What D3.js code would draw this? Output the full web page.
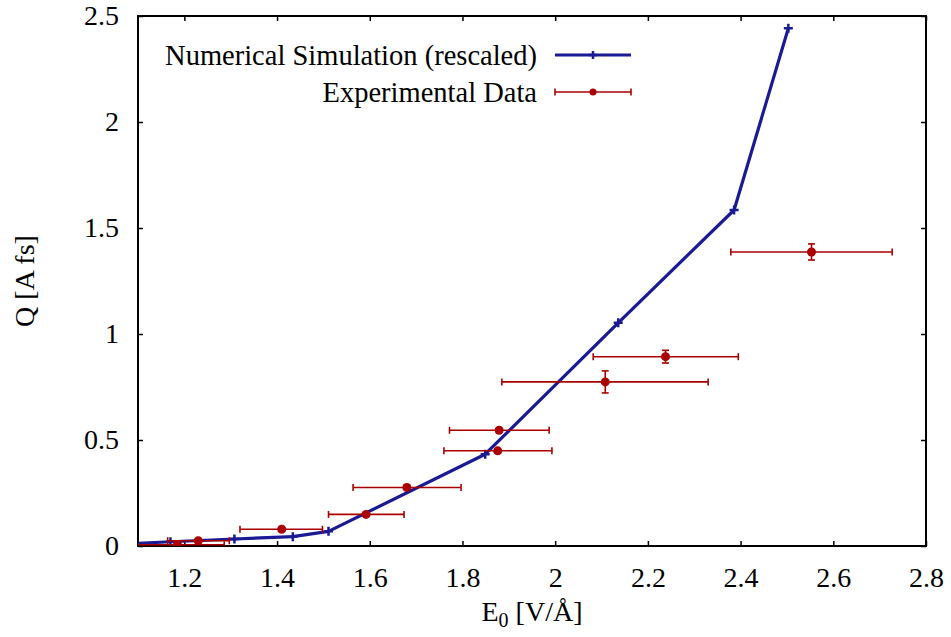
<!DOCTYPE html>
<html>
<head>
<meta charset="utf-8">
<script src="https://cdn.jsdelivr.net/npm/d3@7"></script>
<style>
  body { margin: 0; background: #fff; }
  svg text { font-family: "Liberation Serif", "DejaVu Serif", serif !important; fill: #000; }
</style>
</head>
<body>
<div id="chart"></div>
<script>
// simulation curve (rescaled)
const simE = [1.03, 1.17, 1.308, 1.434, 1.511, 1.849, 2.136, 2.386, 2.503];
const simQ = [0.005, 0.02, 0.033, 0.044, 0.069, 0.433, 1.053, 1.585, 2.442];

// experimental data with error bars
const expE = [1.185, 1.23, 1.41, 1.592, 1.68, 1.876, 1.879, 2.108, 2.238, 2.553];
const expQ = [0.006, 0.025, 0.079, 0.149, 0.276, 0.449, 0.546, 0.774, 0.893, 1.387];
const expELow = [1.084, 1.164, 1.32, 1.511, 1.564, 1.76, 1.772, 1.885, 2.082, 2.379];
const expEHigh = [1.286, 1.297, 1.498, 1.674, 1.797, 1.993, 1.987, 2.33, 2.395, 2.727];
const expQErr = [0.008, 0.008, 0.008, 0.008, 0.008, 0.008, 0.008, 0.052, 0.03, 0.038];

const xTicks = [1.2, 1.4, 1.6, 1.8, 2, 2.2, 2.4, 2.6, 2.8];
const yTicks = [0, 0.5, 1, 1.5, 2, 2.5];

const W = 951, H = 637;
const margin = { top: 16, right: 25, bottom: 91, left: 138 };
const innerW = W - margin.left - margin.right;
const innerH = H - margin.top - margin.bottom;

const blue = "#1a1a94";
const red = "#aa0000";
const fontSize = 28;
const serif = '"Liberation Serif", "DejaVu Serif", serif';

const svg = d3.select("#chart").append("svg")
  .attr("width", W).attr("height", H)
  .attr("font-family", serif);

const g = svg.append("g")
  .attr("transform", `translate(${margin.left},${margin.top})`);

const x = d3.scaleLinear().domain([1.1, 2.8]).range([0, innerW]);
const y = d3.scaleLinear().domain([0, 2.5]).range([innerH, 0]);

/* clip to the frame */
g.append("clipPath").attr("id", "plot-clip")
  .append("rect").attr("width", innerW).attr("height", innerH);

/* axes: ticks pointing in, mirrored */
const tickLen = 5;
g.append("g").attr("transform", `translate(0,${innerH})`)
  .call(d3.axisBottom(x).tickValues(xTicks).tickSizeInner(-tickLen).tickSizeOuter(0).tickPadding(21).tickFormat(d3.format("")))
  .call((a) => a.select(".domain").remove());
g.append("g")
  .call(d3.axisTop(x).tickValues(xTicks).tickSizeInner(-tickLen).tickSizeOuter(0).tickFormat(""))
  .call((a) => a.select(".domain").remove());
g.append("g")
  .call(d3.axisLeft(y).tickValues(yTicks).tickSizeInner(-tickLen).tickSizeOuter(0).tickPadding(19).tickFormat(d3.format("")))
  .call((a) => a.select(".domain").remove());
g.append("g").attr("transform", `translate(${innerW},0)`)
  .call(d3.axisRight(y).tickValues(yTicks).tickSizeInner(-tickLen).tickSizeOuter(0).tickFormat(""))
  .call((a) => a.select(".domain").remove());

g.selectAll("g").attr("font-family", serif);
g.selectAll(".tick line").attr("stroke", "#000").attr("stroke-width", 1.5);
g.selectAll(".tick text")
  .style("font-size", fontSize + "px")
  .attr("fill", "#000");

/* frame */
g.append("rect")
  .attr("width", innerW).attr("height", innerH)
  .attr("fill", "none").attr("stroke", "#000").attr("stroke-width", 2);

const data = g.append("g").attr("clip-path", "url(#plot-clip)");

/* simulation line */
const simPts = simE.map((e, i) => [e, simQ[i]]);
data.append("path")
  .datum(simPts)
  .attr("fill", "none")
  .attr("stroke", blue)
  .attr("stroke-width", 3.2)
  .attr("stroke-linejoin", "round")
  .attr("d", d3.line().x((d) => x(d[0])).y((d) => y(d[1])));

const plus = (sel, cx, cy, s) => {
  sel.append("path")
    .attr("d", `M${cx - s},${cy}H${cx + s}M${cx},${cy - s}V${cy + s}`)
    .attr("stroke", blue).attr("stroke-width", 2.5);
};
simPts.forEach((d) => plus(data, x(d[0]), y(d[1]), 4.5));

/* experimental points */
const capX = 3.5, capY = 3.5;
expE.forEach((e, i) => {
  const pg = data.append("g").attr("stroke", red).attr("stroke-width", 1.6);
  const cy = y(expQ[i]);
  const x0 = x(expELow[i]), x1 = x(expEHigh[i]);
  pg.append("line").attr("x1", x0).attr("x2", x1).attr("y1", cy).attr("y2", cy);
  pg.append("line").attr("x1", x0).attr("x2", x0).attr("y1", cy - capY).attr("y2", cy + capY);
  pg.append("line").attr("x1", x1).attr("x2", x1).attr("y1", cy - capY).attr("y2", cy + capY);
  const y0 = y(expQ[i] - expQErr[i]), y1 = y(expQ[i] + expQErr[i]);
  const cx = x(e);
  pg.append("line").attr("x1", cx).attr("x2", cx).attr("y1", y0).attr("y2", y1);
  pg.append("line").attr("x1", cx - capX).attr("x2", cx + capX).attr("y1", y0).attr("y2", y0);
  pg.append("line").attr("x1", cx - capX).attr("x2", cx + capX).attr("y1", y1).attr("y2", y1);
  pg.append("circle").attr("cx", cx).attr("cy", cy).attr("r", 4.5)
    .attr("fill", red).attr("stroke", "none");
});

/* legend */
const legend = svg.append("g");
const legTextX = 537, legLine0 = 555, legLine1 = 631;
const legRows = [
  { label: "Numerical Simulation (rescaled)", y: 55, kind: "sim" },
  { label: "Experimental Data", y: 92, kind: "exp" }
];
legRows.forEach((r) => {
  legend.append("text")
    .attr("x", legTextX).attr("y", r.y)
    .attr("dy", "0.35em")
    .attr("text-anchor", "end")
    .style("font-size", "28.5px")
    .text(r.label);
  const mid = (legLine0 + legLine1) / 2;
  if (r.kind === "sim") {
    legend.append("line").attr("x1", legLine0).attr("x2", legLine1)
      .attr("y1", r.y).attr("y2", r.y)
      .attr("stroke", blue).attr("stroke-width", 3.2);
    plus(legend, mid, r.y, 4);
  } else {
    const lg = legend.append("g").attr("stroke", red).attr("stroke-width", 1.6);
    lg.append("line").attr("x1", legLine0).attr("x2", legLine1).attr("y1", r.y).attr("y2", r.y);
    lg.append("line").attr("x1", legLine0).attr("x2", legLine0).attr("y1", r.y - capY).attr("y2", r.y + capY);
    lg.append("line").attr("x1", legLine1).attr("x2", legLine1).attr("y1", r.y - capY).attr("y2", r.y + capY);
    legend.append("circle").attr("cx", mid).attr("cy", r.y).attr("r", 3.5).attr("fill", red);
  }
});

/* axis titles */
const xt = svg.append("text")
  .attr("x", margin.left + innerW / 2).attr("y", 621)
  .attr("text-anchor", "middle")
  .style("font-size", fontSize + "px");
xt.append("tspan").text("E");
xt.append("tspan").attr("dy", 6).style("font-size", "20px").text("0");
xt.append("tspan").attr("dy", -6).text(" [V/Å]");

svg.append("text")
  .attr("transform", `translate(34,${margin.top + innerH / 2}) rotate(-90)`)
  .attr("text-anchor", "middle")
  .style("font-size", fontSize + "px")
  .text("Q [A fs]");
</script>
</body>
</html>
